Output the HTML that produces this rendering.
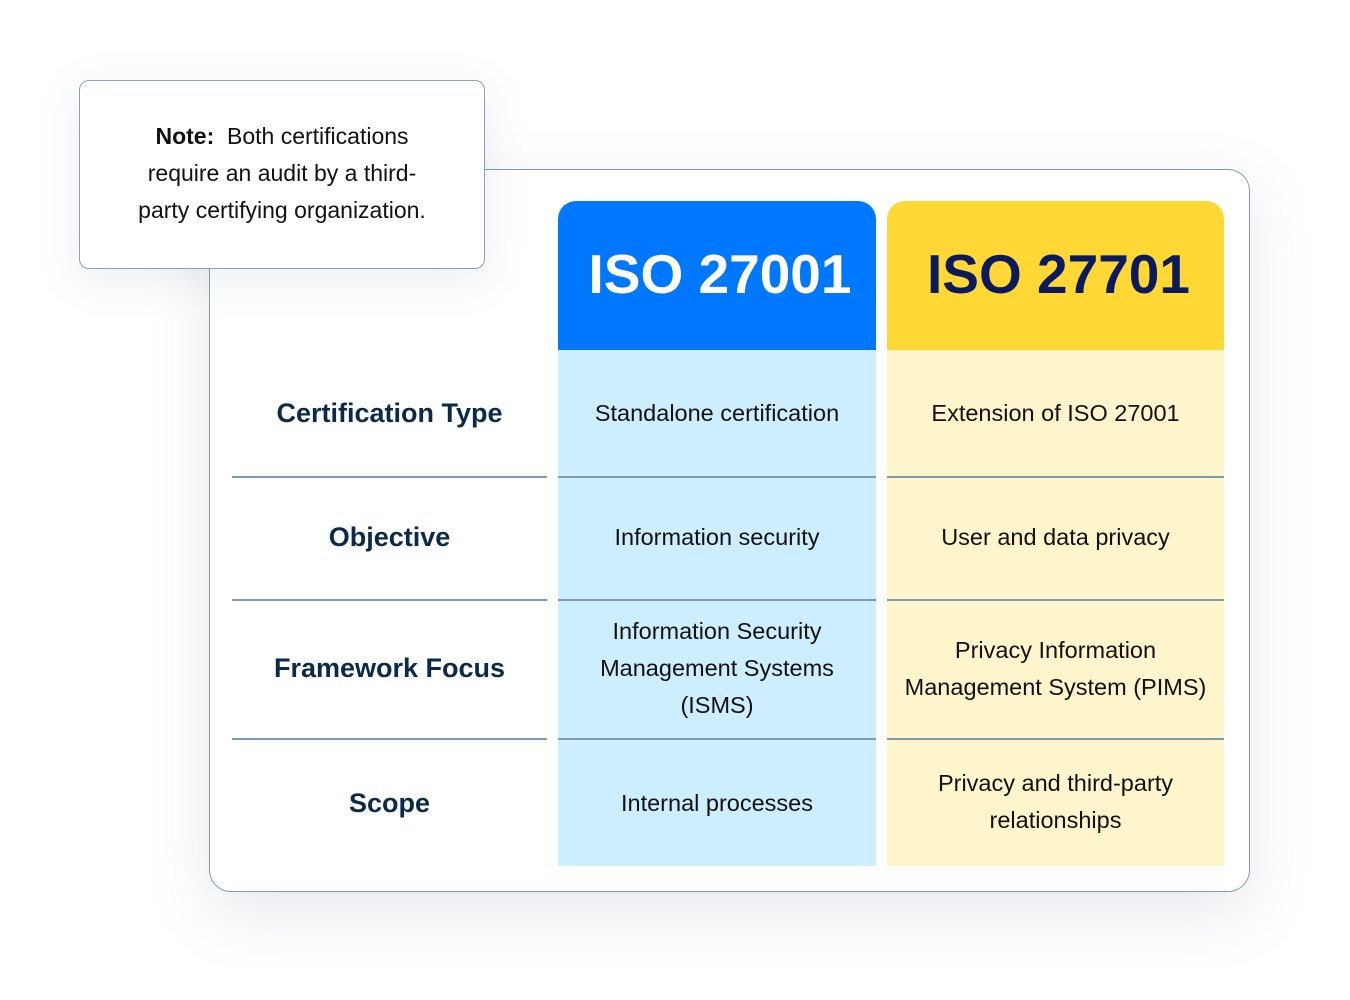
<!DOCTYPE html>
<html><head><meta charset="utf-8"><style>
*{margin:0;padding:0;box-sizing:border-box}
body{width:1350px;height:1000px;background:#fff;position:relative;overflow:hidden;font-family:"Liberation Sans",sans-serif}
.abs{position:absolute}
.card{left:209px;top:169px;width:1041px;height:723px;border:1.5px solid #7f9ab0;border-radius:22px;background:#fff;box-shadow:0 20px 60px rgba(120,135,160,0.18)}
.note{left:79px;top:80px;width:406px;height:189px;border:1.5px solid #8aa2b6;border-radius:10px;background:#fff;box-shadow:0 10px 40px rgba(120,135,160,0.15);display:flex;align-items:center;justify-content:center;text-align:center;font-size:23px;line-height:37px;color:#111}
.col{display:flex;align-items:center;justify-content:center;text-align:center}
.hdr{font-weight:bold;font-size:55px}
.lbl{left:232px;width:315px;font-weight:bold;font-size:27px;color:#0a2a48}
.c1{left:558px;width:318px;font-size:23.5px;color:#111;line-height:37px}
.c2{left:887px;width:337px;font-size:23.5px;color:#111;line-height:37px}
.line{height:1.5px;background:#7f9ab0}
</style></head><body>
<div class="abs card"></div>
<div class="abs" style="left:558px;top:350px;width:318px;height:516px;background:#cdeefe"></div>
<div class="abs" style="left:887px;top:350px;width:337px;height:516px;background:#fff5cc"></div>
<div class="abs col hdr" style="left:558px;top:201px;width:318px;height:149px;background:#0077ff;border-radius:18px 18px 0 0;color:#fff;padding-left:6px;padding-bottom:4px">ISO 27001</div>
<div class="abs col hdr" style="left:887px;top:201px;width:337px;height:149px;background:#ffd835;border-radius:18px 18px 0 0;color:#0a1a5c;padding-left:6px;padding-bottom:4px">ISO 27701</div>

<div class="abs line" style="left:232px;top:476px;width:315px"></div>
<div class="abs line" style="left:558px;top:476px;width:318px"></div>
<div class="abs line" style="left:887px;top:476px;width:337px"></div>
<div class="abs line" style="left:232px;top:599px;width:315px"></div>
<div class="abs line" style="left:558px;top:599px;width:318px"></div>
<div class="abs line" style="left:887px;top:599px;width:337px"></div>
<div class="abs line" style="left:232px;top:738px;width:315px"></div>
<div class="abs line" style="left:558px;top:738px;width:318px"></div>
<div class="abs line" style="left:887px;top:738px;width:337px"></div>

<div class="abs col lbl" style="top:350px;height:126px">Certification Type</div>
<div class="abs col lbl" style="top:476px;height:123px">Objective</div>
<div class="abs col lbl" style="top:599px;height:139px">Framework Focus</div>
<div class="abs col lbl" style="top:738px;height:130px">Scope</div>

<div class="abs col c1" style="top:350px;height:126px">Standalone certification</div>
<div class="abs col c1" style="top:476px;height:123px">Information security</div>
<div class="abs col c1" style="top:599px;height:139px">Information Security<br>Management Systems<br>(ISMS)</div>
<div class="abs col c1" style="top:738px;height:130px">Internal processes</div>

<div class="abs col c2" style="top:350px;height:126px">Extension of ISO 27001</div>
<div class="abs col c2" style="top:476px;height:123px">User and data privacy</div>
<div class="abs col c2" style="top:599px;height:139px">Privacy Information<br>Management System (PIMS)</div>
<div class="abs col c2" style="top:738px;height:128px">Privacy and third-party<br>relationships</div>

<div class="abs note"><div style="margin-top:-2px"><b>Note:</b>&nbsp; Both certifications<br>require an audit by a third-<br>party certifying organization.</div></div>
</body></html>
